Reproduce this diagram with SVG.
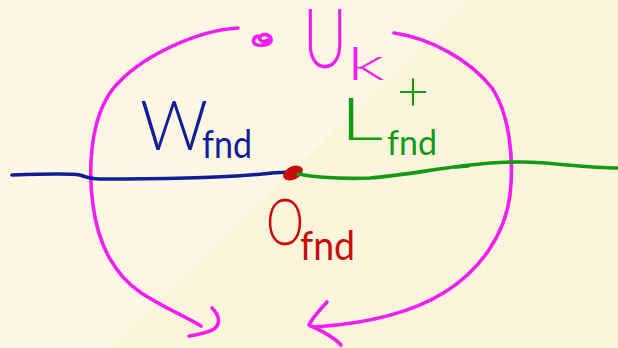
<svg xmlns="http://www.w3.org/2000/svg" width="618" height="348" viewBox="0 0 618 348">
<style>
.ink{fill:none;stroke-linecap:round;stroke-linejoin:round;stroke-width:3.6}
.pk{stroke:#f21ef2}
.bl{stroke:#111c98}
.gr{stroke:#129a12}
.t{font-family:Lato,Roboto,"Open Sans",sans-serif;font-weight:300}
.s{font-weight:400}
.tpk{fill:#f21ef2}
.tbl{fill:#111c98}
.tgr{fill:#129a12}
.trd{fill:#c80c0c}
</style>
<rect width="618" height="348" fill="#fcf5dc"/>
<polygon points="0,0 470,0 110,348 0,348" fill="#fdf7e3"/>
<g id="connectors">
<path class="ink pk" d="M238,28 C200,30 140,55 112,90 C90,120 88,170 93,205 C98,245 115,275 140,292 C160,306 185,316 201,326"/>
<path class="ink pk" d="M212,308 C220,316 222,326 210,331 C202,334 195,335 189,336"/>
<path class="ink pk" d="M394,33 C430,38 470,60 492,88 C510,115 514,160 510,195 C505,235 480,270 445,292 C410,314 360,324 315,327"/>
<path class="ink pk" d="M327,302 C318,312 312,318 309,325 C320,330 333,336 341,345"/>
<path class="ink bl" stroke-width="3" d="M12,175 C40,174 70,173 80,175 C88,178 92,179 100,179 C150,179 210,178 250,175 C265,174 280,172 290,172"/>
<ellipse cx="293" cy="173" rx="10.5" ry="6.5" transform="rotate(-25 293 173)" fill="#c80c0c"/>
<path class="ink gr" stroke-width="3" d="M298,174 C320,178 345,179 370,178 C400,176 440,168 470,165 C495,162 520,161 545,163 C570,165 595,168 618,168"/>
<path class="ink gr" stroke-width="2.5" d="M455,167 L468,166"/>
</g>
<g id="node-U">
<path class="ink pk" stroke-width="3.2" d="M258,36 C252,38 252,44 258,45 C265,46 272,44 271,39 C270,34 262,33 260,37 C258,41 264,43 268,40"/>
<text class="t tpk" x="303" y="68" font-size="83" textLength="44" lengthAdjust="spacingAndGlyphs">U</text>
<text class="t tpk" x="347" y="80" font-size="46" textLength="38" lengthAdjust="spacingAndGlyphs">k</text>
</g>
<g id="node-W">
<text class="t tbl" x="140" y="150" font-size="68" textLength="68" lengthAdjust="spacingAndGlyphs">W</text>
<text class="t s tbl" x="202" y="158" font-size="38" textLength="50" lengthAdjust="spacingAndGlyphs">fnd</text>
</g>
<g id="node-L">
<text class="t tgr" x="397" y="111" font-size="55" textLength="32" lengthAdjust="spacingAndGlyphs">+</text>
<text class="t tgr" x="340" y="140" font-size="60" textLength="43" lengthAdjust="spacingAndGlyphs">L</text>
<text class="t s tgr" x="387" y="155" font-size="34" textLength="50" lengthAdjust="spacingAndGlyphs">fnd</text>
</g>
<g id="node-O">
<text class="t trd" x="266" y="245" font-size="65" textLength="38" lengthAdjust="spacingAndGlyphs">O</text>
<text class="t s trd" x="300" y="260" font-size="40" textLength="55" lengthAdjust="spacingAndGlyphs">fnd</text>
</g>
</svg>
